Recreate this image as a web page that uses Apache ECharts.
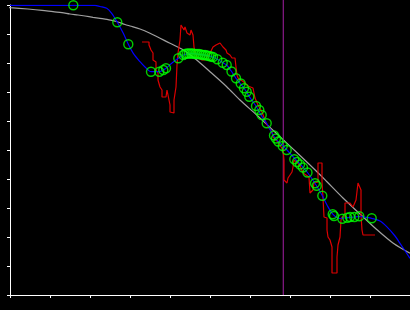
<!DOCTYPE html>
<html>
<head>
<meta charset="utf-8">
<script src="https://cdn.jsdelivr.net/npm/echarts@6/dist/echarts.min.js"></script>
<style>html,body{margin:0;padding:0;background:#000;}#c{width:410px;height:310px;}</style>
</head>
<body>
<div id="c"></div>
<script>
// Reference (grey) curve
var greyCurve = [[-10,288.3],[0,287.3],[18,286],[32,284.7],[43,283.3],[52,282.3],[60,281],[68,280],[75,279],[83,277.7],[90,276.7],[97,275.7],[103,274.3],[108,273],[115,270.5],[120,269],[130,266],[140,261.7],[160,251.7],[173.3,245],[186.7,235],[200,223.3],[216.7,208.3],[230,195],[246.7,180],[270,158.3],[290,139.5],[306.7,123.5],[316.7,113.5],[333,97],[350,81],[366.7,65.5],[383.3,51.7],[400,41.7]];
// Fitted (blue) curve
var blueCurve = [[0,289.7],[40,289.7],[63.3,289.7],[85,289.7],[90,288.5],[96.7,286.7],[101.7,281.7],[107.3,272.7],[113.3,261.7],[118.3,250.7],[123.3,241.7],[130,233.3],[135,228],[141,223.3],[149.3,223.3],[153.3,225],[156,226.7],[162,232],[168.3,236.7],[173.3,240],[180,241.7],[190,240.5],[201.7,238.3],[207.3,235.7],[212.7,232.3],[216.7,230],[221,224.3],[226,216.7],[230.7,211],[236,204],[239.3,198.3],[246,189],[251,180],[256.7,171.7],[265,157],[273,149],[277,145],[286,135],[290,131],[294,126.7],[297.5,122.5],[305,111.7],[312.3,99.3],[317,90],[323,80.7],[330,76.5],[337.3,77.3],[344.3,78],[350,78.5],[356,77.7],[361.7,76.7],[370,74],[376.7,68.3],[385,59],[390,51.7],[400,36.7]];
// Observed (red) trace
var redTrace = [[132,253],[139,253],[139,250],[141,245],[143,242],[143,235],[146,233],[146,225],[148,222],[148,215],[150,208],[152,205],[152,198],[156,198],[157,205],[158,200],[160,190],[160,183],[162,182],[164,182],[164,195],[166,208],[167,230],[168,242],[170,255],[171,270],[173,270],[174,265],[175,268],[177,262],[179,260],[180,260],[181,265],[183,260],[184,248],[185,242],[188,237],[192,235],[195,235],[197,238],[200,242],[203,248],[206,250],[208,251],[210,252],[212,250],[213,248],[216,245],[217,242],[220,240],[222,237],[225,237],[226,228],[227,220],[228,217],[231,215],[235,212],[238,209],[240,209],[243,207],[244,202],[245,197],[248,190],[252,183],[256,172],[259,167],[262,163],[263,158],[268,153],[273,145],[274,135],[274,115],[277,112],[278,117],[280,119],[282,123],[283,128],[284,135],[287,133],[290,129],[293,122],[296,120],[299,118],[300,102],[302,100],[303,105],[304,112],[308,113],[308,132],[312,132],[312,113],[313,97],[314,78],[317,77],[317,65],[318,58],[320,55],[322,48],[322,22],[327,22],[327,38],[328,50],[330,58],[331,75],[332,78],[335,78],[335,92],[337,92],[340,92],[343,88],[345,88],[346,95],[348,112],[350,112],[351,105],[351,80],[352,65],[353,60],[365,60]];
// Sample points (green circles)
var samplePoints = [[63.3,289.7],[107.3,272.7],[118.3,250.7],[141,223.3],[149.3,223.3],[153.3,225],[156,226.7],[168.3,236.7],[173.3,240],[175,241],[177,241.5],[179,241.5],[181,241.5],[183,241.5],[185,241],[187,241],[189,241],[191,240.5],[193,240],[195,240],[197,239.5],[199,239],[201,238.5],[203,238],[207.3,235.7],[212.7,232.3],[216.7,230],[221.5,223.5],[226,216.7],[230.7,211.5],[234,206.7],[236.7,203.3],[239.3,198.3],[246,189],[249.3,185],[251.7,180],[256.7,171.7],[264,159.5],[266,156.5],[268.3,153.5],[272.7,149],[276.7,145],[284.3,135.7],[287,133],[290,130.5],[293,127.5],[297.5,122.5],[305,111.7],[306.7,109.3],[312.3,99.3],[322.7,80.7],[324,79],[332.3,76.3],[337.3,77.3],[340,78],[344.3,78],[349.3,78.7],[361.7,76.7]];
// Vertical marker
var markerX = 273.3;
var markerSpan = [0, 295];

var chart = echarts.init(document.getElementById('c'), null, {renderer: 'canvas'});
chart.setOption({
  backgroundColor: '#000',
  animation: false,
  grid: {left: 10, right: 0, top: 5, bottom: 15, containLabel: false},
  xAxis: {
    type: 'value', min: 0, max: 400, interval: 40,
    axisLine: {show: true, onZero: false, lineStyle: {color: '#fff', width: 1}},
    axisTick: {show: true, length: 3, lineStyle: {color: '#fff', width: 1}},
    axisLabel: {show: false},
    splitLine: {show: false}
  },
  yAxis: {
    type: 'value', min: 0, max: 290, interval: 29,
    axisLine: {show: true, onZero: false, lineStyle: {color: '#fff', width: 1}},
    axisTick: {show: true, length: 3, lineStyle: {color: '#fff', width: 1}},
    axisLabel: {show: false},
    splitLine: {show: false}
  },
  series: [
    {type: 'line', data: greyCurve, smooth: 0.3, symbol: 'none', clip: false,
     lineStyle: {color: '#a0a0a0', width: 1.2}, z: 2},
    {type: 'line', data: markerSpan.map(function(v){return [markerX, v];}), symbol: 'none', clip: false,
     lineStyle: {color: '#8b1a8b', width: 1.2}, z: 3},
    {type: 'line', data: redTrace, symbol: 'none',
     lineStyle: {color: '#dd0000', width: 1.2}, z: 4},
    {type: 'line', data: blueCurve, smooth: 0.3, symbol: 'none',
     lineStyle: {color: '#0000ff', width: 1.2}, z: 5},
    {type: 'scatter', data: samplePoints, symbol: 'circle', symbolSize: 9,
     itemStyle: {color: 'rgba(0,0,0,0)', borderColor: '#00ff00', borderWidth: 1.4}, z: 6}
  ]
});
</script>
</body>
</html>
